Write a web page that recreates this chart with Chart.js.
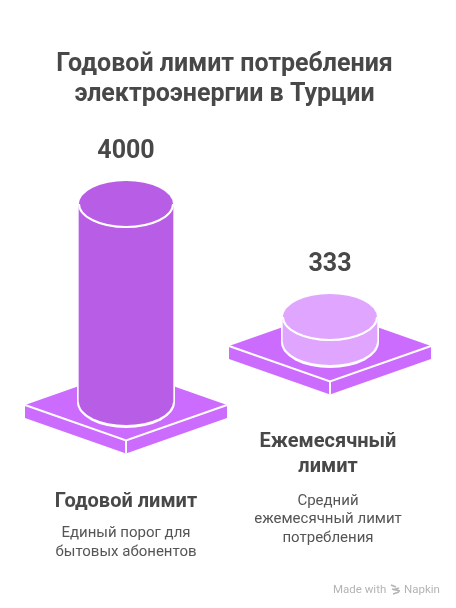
<!DOCTYPE html>
<html>
<head>
<meta charset="utf-8">
<style>
  html, body { margin: 0; padding: 0; background: #fff; }
  #chart-box { width: 456px; height: 608px; }
</style>
<script src="https://cdn.jsdelivr.net/npm/chart.js@4"></script>
</head>
<body>
<div id="chart-box"><canvas id="chart" width="456" height="608"></canvas></div>
<script>
const categories = ["Годовой лимит", "Ежемесячный лимит"];
const yearlyValues = [4000, null];
const monthlyValues = [null, 333];
const titleLines = ["Годовой лимит потребления", "электроэнергии в Турции"];
const categoryLines = [["Годовой лимит"], ["Ежемесячный", "лимит"]];
const descriptionLines = [
    ["Единый порог для", "бытовых абонентов"],
    ["Средний", "ежемесячный лимит", "потребления"]
];

const PLATE_COLOR = "#cc6cff";
const TEXT_COLOR = "#484848";
const CAP_RY = 23;

// the two cylinders do not share a baseline, so each one gets its own hidden axis
function axisRange(value, topPx, basePx) {
    const perPx = value / (basePx - topPx);
    return { min: -(608 - basePx) * perPx, max: value + topPx * perPx };
}

function drawPlate(ctx, cx, cy) {
    const hw = 101, hh = 35.5, depth = 13;
    ctx.fillStyle = PLATE_COLOR;
    ctx.beginPath();
    ctx.moveTo(cx - hw, cy);
    ctx.lineTo(cx, cy - hh);
    ctx.lineTo(cx + hw, cy);
    ctx.lineTo(cx + hw, cy + depth);
    ctx.lineTo(cx, cy + hh + depth);
    ctx.lineTo(cx - hw, cy + depth);
    ctx.closePath();
    ctx.fill();

    ctx.strokeStyle = "#ffffff";
    ctx.lineWidth = 2;
    ctx.beginPath();
    ctx.moveTo(cx - hw, cy);
    ctx.lineTo(cx, cy + hh);
    ctx.lineTo(cx + hw, cy);
    ctx.moveTo(cx, cy + hh);
    ctx.lineTo(cx, cy + hh + depth);
    ctx.stroke();
}

function drawTextLines(ctx, lines, x, y, step, font, color) {
    ctx.font = font;
    ctx.fillStyle = color;
    ctx.textAlign = "center";
    ctx.textBaseline = "middle";
    lines.forEach((line, i) => ctx.fillText(line, x, y + i * step));
}

const cylinderPlugin = {
    id: "cylinders",
    beforeDatasetsDraw(chart) {
        const ctx = chart.ctx;
        chart.data.datasets.forEach((ds, d) => {
            const bar = chart.getDatasetMeta(d).data[d];
            ctx.save();
            drawPlate(ctx, bar.x, bar.base + (d === 0 ? 3 : 4));
            // white halo round the foot of the cylinder
            const haloTop = Math.max(bar.y, bar.base - 60);
            ctx.fillStyle = "#ffffff";
            ctx.beginPath();
            ctx.ellipse(bar.x, bar.base, bar.width / 2 + 2, CAP_RY + 3, 0, 0, Math.PI);
            ctx.lineTo(bar.x - bar.width / 2 - 2, haloTop);
            ctx.lineTo(bar.x + bar.width / 2 + 2, haloTop);
            ctx.closePath();
            ctx.fill();
            ctx.restore();
        });
    },
    afterDatasetsDraw(chart) {
        const ctx = chart.ctx;
        chart.data.datasets.forEach((ds, d) => {
            const bar = chart.getDatasetMeta(d).data[d];
            const rx = bar.width / 2;
            ctx.save();
            ctx.fillStyle = ds.backgroundColor;
            ctx.beginPath();
            ctx.ellipse(bar.x, bar.base, rx, CAP_RY, 0, 0, Math.PI);
            ctx.fill();

            ctx.beginPath();
            ctx.ellipse(bar.x, bar.y, rx, CAP_RY, 0, 0, Math.PI * 2);
            ctx.fill();
            ctx.strokeStyle = "#ffffff";
            ctx.lineWidth = 2;
            ctx.beginPath();
            ctx.ellipse(bar.x, bar.y, rx, CAP_RY, 0, 0, Math.PI);
            ctx.stroke();
            ctx.restore();
        });
    },
    afterDraw(chart) {
        const ctx = chart.ctx;
        ctx.save();
        drawTextLines(ctx, titleLines, 224.5, 64.5, 30, "bold 25px Roboto", TEXT_COLOR);

        const yearly = chart.getDatasetMeta(0).data[0];
        const monthly = chart.getDatasetMeta(1).data[1];
        drawTextLines(ctx, [String(yearlyValues[0])], yearly.x, 152, 0, "bold 25px Roboto", TEXT_COLOR);
        drawTextLines(ctx, [String(monthlyValues[1])], monthly.x, 265, 0, "bold 25px Roboto", TEXT_COLOR);

        drawTextLines(ctx, categoryLines[0], 126, 502, 25, "bold 20px Roboto", TEXT_COLOR);
        drawTextLines(ctx, categoryLines[1], 328, 442, 25, "bold 20px Roboto", TEXT_COLOR);
        drawTextLines(ctx, descriptionLines[0], 126, 533, 19, "15px Roboto", "#555555");
        drawTextLines(ctx, descriptionLines[1], 328, 501, 18.5, "15px Roboto", "#555555");

        // footer mark
        ctx.font = "11.5px Roboto";
        ctx.fillStyle = "#b4b4b4";
        ctx.textAlign = "left";
        ctx.fillText("Made with", 333, 590);
        ctx.fillText("Napkin", 404, 590);
        ctx.strokeStyle = "#b4b4b4";
        ctx.lineWidth = 1.6;
        ctx.beginPath();
        [[391, 585, 396, 587], [392, 589, 400, 591], [393, 594, 399, 592], [393, 590, 399, 588]].forEach((s) => {
            ctx.moveTo(s[0], s[1]);
            ctx.lineTo(s[2], s[3]);
        });
        ctx.stroke();
        ctx.restore();
    }
};

new Chart(document.getElementById("chart").getContext("2d"), {
    type: "bar",
    data: {
        labels: categories,
        datasets: [
            { data: yearlyValues, yAxisID: "y", backgroundColor: "#b85ee6", borderWidth: 0 },
            { data: monthlyValues, yAxisID: "y2", backgroundColor: "#e0a6ff", borderWidth: 0 }
        ]
    },
    options: {
        responsive: false,
        animation: false,
        layout: { padding: { left: 24, right: 24, top: 0, bottom: 0 } },
        datasets: { bar: { grouped: false, barThickness: 94 } },
        plugins: {
            legend: { display: false },
            title: { display: false },
            tooltip: { enabled: false }
        },
        scales: {
            x: { display: false },
            y: { display: false, ...axisRange(4000, 204, 402) },
            y2: { display: false, ...axisRange(333, 317, 342) }
        }
    },
    plugins: [cylinderPlugin]
});
</script>
</body>
</html>
